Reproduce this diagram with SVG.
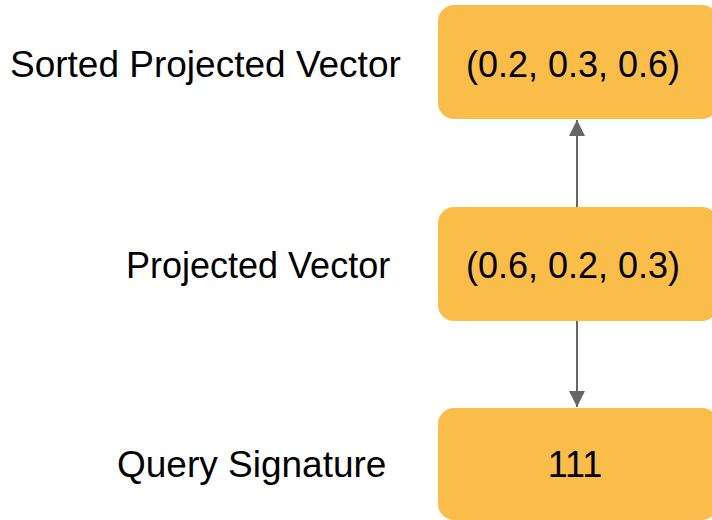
<svg xmlns="http://www.w3.org/2000/svg" width="712" height="520" viewBox="0 0 712 520">
  <style>
    .box { fill: #fbbd4a; }
    .label { font-family: "Liberation Sans", Arial, sans-serif; font-size: 36px; fill: #000; }
    .edge { stroke: #666666; stroke-width: 2; fill: none; }
  </style>
  <defs>
    <marker id="arrow" markerWidth="16" markerHeight="16" refX="16" refY="8" orient="auto" markerUnits="userSpaceOnUse">
      <path d="M0,0 L16,8 L0,16 Z" fill="#666666"/>
    </marker>
  </defs>
  <rect width="712" height="520" fill="#ffffff"/>

  <g id="connectors">
    <line class="edge" x1="577" y1="207" x2="577" y2="120" marker-end="url(#arrow)"/>
    <line class="edge" x1="577" y1="321" x2="577" y2="407" marker-end="url(#arrow)"/>
  </g>

  <g id="sorted-projected-vector">
    <text class="label" x="10" y="77" style="font-size:37px">Sorted Projected Vector</text>
    <rect class="box" x="438" y="5" width="280" height="114" rx="16" ry="16"/>
    <text class="label" x="573" y="77" text-anchor="middle">(0.2, 0.3, 0.6)</text>
  </g>

  <g id="projected-vector">
    <text class="label" x="126" y="278">Projected Vector</text>
    <rect class="box" x="438" y="207" width="280" height="114" rx="16" ry="16"/>
    <text class="label" x="573" y="278" text-anchor="middle">(0.6, 0.2, 0.3)</text>
  </g>

  <g id="query-signature">
    <text class="label" x="117" y="477" style="font-size:37px">Query Signature</text>
    <rect class="box" x="438" y="408" width="280" height="112" rx="16" ry="16"/>
    <text class="label" x="575" y="477" text-anchor="middle">111</text>
  </g>
</svg>
